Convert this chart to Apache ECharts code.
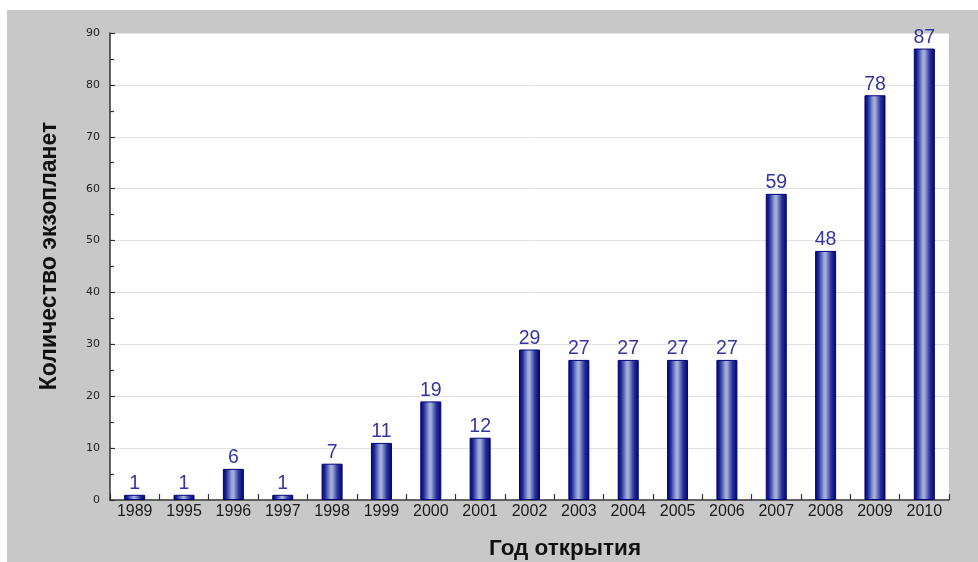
<!DOCTYPE html>
<html>
<head>
<meta charset="utf-8">
<script src="https://cdn.jsdelivr.net/npm/echarts@6/dist/echarts.min.js"></script>
<style>
  html, body { margin: 0; padding: 0; background: #ffffff; }
  #chart { width: 978px; height: 562px; }
</style>
</head>
<body>
<div id="chart"></div>
<script>
// Discovered exoplanets per year
const years = ['1989', '1995', '1996', '1997', '1998', '1999', '2000', '2001', '2002',
  '2003', '2004', '2005', '2006', '2007', '2008', '2009', '2010'];
const counts = [1, 1, 6, 1, 7, 11, 19, 12, 29, 27, 27, 27, 27, 59, 48, 78, 87];
const yTitle = 'Количество экзопланет';
const xTitle = 'Год открытия';

const chart = echarts.init(document.getElementById('chart'), null, { renderer: 'canvas' });

// Cylinder-like shading across each bar
const barFill = new echarts.graphic.LinearGradient(0, 0, 1, 0, [
  { offset: 0, color: '#00007e' },
  { offset: 0.16, color: '#1e2896' },
  { offset: 0.42, color: '#9aa7d6' },
  { offset: 0.5, color: '#a6b2dc' },
  { offset: 0.76, color: '#2a3398' },
  { offset: 1, color: '#000076' }
]);

const titleFont = 'Liberation Sans, Arial, sans-serif';

chart.setOption({
  animation: false,
  backgroundColor: '#ffffff',
  graphic: [{
    type: 'rect',
    z: -10,
    shape: { x: 7, y: 10, width: 971, height: 552 },
    style: { fill: '#c8c8c8' }
  }, {
    type: 'text',
    x: 50,
    y: 256,
    rotation: Math.PI / 2,
    style: {
      text: yTitle,
      fontFamily: titleFont,
      fontSize: 23,
      fontWeight: 'bold',
      fill: '#111',
      align: 'center',
      verticalAlign: 'middle'
    }
  }, {
    type: 'text',
    x: 565,
    y: 549,
    style: {
      text: xTitle,
      fontFamily: titleFont,
      fontSize: 22.5,
      fontWeight: 'bold',
      fill: '#111',
      align: 'center',
      verticalAlign: 'middle'
    }
  }],
  grid: {
    left: 110, top: 33, width: 839, height: 467,
    show: true, backgroundColor: '#ffffff', borderWidth: 0
  },
  xAxis: {
    type: 'category',
    data: years,
    axisLine: { lineStyle: { color: '#333', width: 1.5 } },
    axisTick: { show: true, inside: true, length: 6, alignWithLabel: false, lineStyle: { color: '#333', width: 1.2 } },
    axisLabel: { fontFamily: 'Liberation Sans, Arial, sans-serif', fontSize: 16, color: '#1a1a1a', margin: 4 },
    splitLine: { show: false }
  },
  yAxis: {
    type: 'value',
    min: 0, max: 90, interval: 10,
    axisLine: { show: true, lineStyle: { color: '#333', width: 1.5 } },
    axisTick: { show: true, inside: true, length: 5, lineStyle: { color: '#333', width: 1.2 } },
    minorTick: { show: true, splitNumber: 2, length: 4, lineStyle: { color: '#333', width: 1.2 } },
    axisLabel: { fontFamily: 'DejaVu Sans, Verdana, sans-serif', fontSize: 11, color: '#222', margin: 10 },
    splitLine: { show: true, lineStyle: { color: '#e2e2e2', width: 1 } }
  },
  series: [{
    type: 'bar',
    data: counts,
    barWidth: 21,
    itemStyle: { color: barFill, borderColor: '#00007a', borderWidth: 1 },
    label: {
      show: true,
      position: 'top',
      distance: 1,
      fontFamily: 'Liberation Sans, Arial, sans-serif',
      fontSize: 19.5,
      color: '#3535a0'
    }
  }]
});
</script>
</body>
</html>
